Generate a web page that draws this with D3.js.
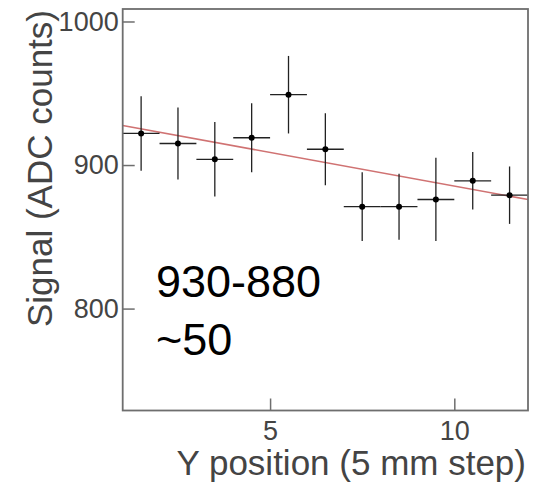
<!DOCTYPE html>
<html><head><meta charset="utf-8">
<script src="https://cdn.jsdelivr.net/npm/d3@7"></script>
<style>body{margin:0;background:#fff;} svg{display:block;}</style>
</head><body>
<svg id="c" width="536" height="486"></svg>
<script>
const xPos = [1.5,2.5,3.5,4.5,5.5,6.5,7.5,8.5,9.5,10.5,11.5];
const signal = [922,915,904,919,949,911,871,871,876,889,879];
const signalErr = [26,25,26,24,27,25,24,23,29,20,20];
const xErr = [0.5,0.5,0.5,0.5,0.5,0.5,0.5,0.5,0.5,0.5,0.5];
const fitX = [1,12];
const fitY = [927.5,876];
const xTicks = [5,10];
const yTicks = [800,900,1000];
const annotation = ["930-880","~50"];

const svg = d3.select("#c");
const L=122.7, R=528, T=9, B=410.5;
const x = d3.scaleLinear().domain([1,12]).range([L,R]);
const y = d3.scaleLinear().domain([729,1008.7]).range([B,T]);
const font = "Liberation Sans, Arial, sans-serif";

// fit line
svg.append("line")
  .attr("x1",x(fitX[0])).attr("y1",y(fitY[0]))
  .attr("x2",x(fitX[1])).attr("y2",y(fitY[1]))
  .attr("stroke","#c85a5a").attr("stroke-width",1.6).attr("opacity",0.85);

// error bars
const g = svg.append("g");
xPos.forEach((xv,i)=>{
  g.append("line").attr("x1",x(xv-xErr[i])).attr("x2",x(xv+xErr[i]))
   .attr("y1",y(signal[i])).attr("y2",y(signal[i]))
   .attr("stroke","#222").attr("stroke-width",1.3);
  g.append("line").attr("x1",x(xv)).attr("x2",x(xv))
   .attr("y1",y(signal[i]-signalErr[i])).attr("y2",y(signal[i]+signalErr[i]))
   .attr("stroke","#222").attr("stroke-width",1.3);
  g.append("circle").attr("cx",x(xv)).attr("cy",y(signal[i])).attr("r",3).attr("fill","#000");
});

// frame
svg.append("rect").attr("x",L).attr("y",T).attr("width",R-L).attr("height",B-T)
  .attr("fill","none").attr("stroke","#6e6e6e").attr("stroke-width",1.8);

// axes with inward ticks
const yAxis = d3.axisLeft(y).tickValues(yTicks).tickSize(-12).tickPadding(4).tickFormat(d3.format("d"));
const ya = svg.append("g").attr("transform",`translate(${L},0)`).call(yAxis);
ya.select(".domain").remove();
ya.selectAll("line").attr("stroke","#6e6e6e").attr("stroke-width",1.5);
ya.selectAll("text").attr("font-family",font).attr("font-size",27).attr("fill","#444").attr("dx",0);

const xAxis = d3.axisBottom(x).tickValues(xTicks).tickSize(-12).tickPadding(10);
const xa = svg.append("g").attr("transform",`translate(0,${B})`).call(xAxis);
xa.select(".domain").remove();
xa.selectAll("line").attr("stroke","#6e6e6e").attr("stroke-width",1.5);
xa.selectAll("text").attr("font-family",font).attr("font-size",27).attr("fill","#444");

// axis titles
svg.append("text").attr("x",526).attr("y",475).attr("text-anchor","end")
  .attr("font-family",font).attr("font-size",35).attr("fill","#444")
  .text("Y position (5 mm step)");
svg.append("text").attr("transform","translate(52,10) rotate(-90)").attr("text-anchor","end")
  .attr("font-family",font).attr("font-size",35).attr("fill","#444")
  .text("Signal (ADC counts)");

// annotation
annotation.forEach((t,i)=>{
  svg.append("text").attr("x",156).attr("y",297+i*58)
    .attr("font-family",font).attr("font-size",45).attr("fill","#000").text(t);
});
</script>
</body></html>
